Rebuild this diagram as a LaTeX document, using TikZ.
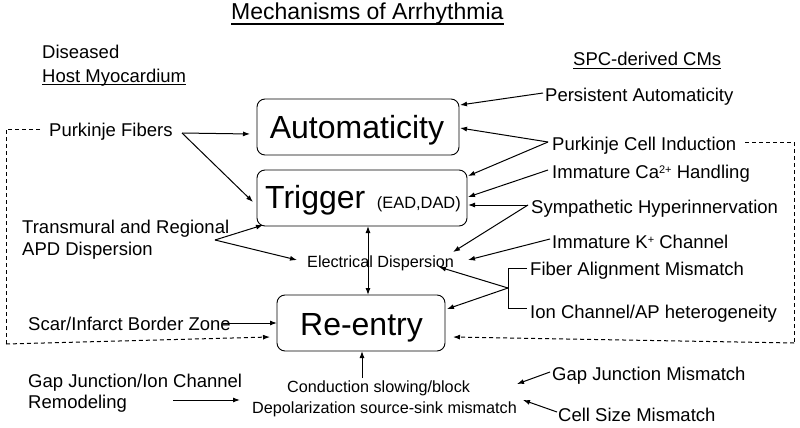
\documentclass[tikz,border=0pt]{standalone}
\usepackage{fontspec}
\setmainfont{Liberation Sans}
\usetikzlibrary{arrows.meta}
\newcommand{\mysup}[1]{\raisebox{5pt}{\fontsize{11}{12}\selectfont #1}}
\begin{document}
\begin{tikzpicture}[x=1pt,y=-1pt,
 txt/.style={inner sep=0,anchor=base west,font=\fontsize{18.5}{21}\selectfont},
 sm/.style={inner sep=0,anchor=base west,font=\fontsize{16.2}{18}\selectfont},
 box/.style={draw,rounded corners=8pt,line width=0.9pt,inner sep=0},
 big/.style={inner sep=0,anchor=base,font=\fontsize{32}{36}\selectfont},
 arr/.style={-{Latex[length=7pt,width=5pt]},line width=1pt},
 darr/.style={{Latex[length=7pt,width=5pt]}-{Latex[length=7pt,width=5pt]},line width=1pt},
 ln/.style={line width=1pt},
 dsh/.style={dash pattern=on 4pt off 3pt,line width=1pt},
 ul/.style={line width=1.2pt}]
\useasboundingbox (0,0) rectangle (800,428);

% boxes
\node[box,minimum width=202pt,minimum height=56pt] (auto) at (358,127) {};
\node[box,minimum width=210pt,minimum height=56pt] (trig) at (362,198) {};
\node[box,minimum width=168pt,minimum height=56pt] (reen) at (361,323) {};
\node[big] (autot) at (357,138) {Automaticity};
\node[big,anchor=base west] (trigt) at (265,208) {Trigger};
\node[inner sep=0,anchor=base east,font=\fontsize{16.4}{19}\selectfont] (ead) at (461,208) {(EAD,DAD)};
\node[big] (reent) at (361.5,335) {Re-entry};

% headers
\node[inner sep=0,anchor=base west,font=\fontsize{23}{26}\selectfont] (title) at (231,20) {Mechanisms of Arrhythmia};
\draw[ul] ([yshift=-4pt]title.base west) -- ([yshift=-4pt]title.base east);
\node[txt] (dis) at (42,59) {Diseased};
\node[txt] (host) at (42,82) {Host Myocardium};
\draw[ul] ([yshift=-2.5pt]host.base west) -- ([yshift=-2.5pt]host.base east);
\node[txt] (spc) at (573,66) {SPC-derived CMs};
\draw[ul] ([yshift=-2.5pt]spc.base west) -- ([yshift=-2.5pt]spc.base east);

% left texts
\node[txt] (pf) at (49,136) {Purkinje Fibers};
\node[txt] (trans1) at (22,233) {Transmural and Regional};
\node[txt] (trans2) at (22,255) {APD Dispersion};
\node[txt] (scar) at (28,330) {Scar/Infarct Border Zone};
\node[txt] (gap1) at (28,387) {Gap Junction/Ion Channel};
\node[txt] (gap2) at (28,408) {Remodeling};

% right texts
\node[txt] (pa) at (545,101) {Persistent Automaticity};
\node[txt] (pci) at (552,150) {Purkinje Cell Induction};
\node[txt] (ca) at (552,178) {Immature Ca\mysup{2+} Handling};
\node[txt] (sym) at (531,213) {Sympathetic Hyperinnervation};
\node[txt] (kch) at (552,248) {Immature K\mysup{+} Channel};
\node[txt] (fib) at (530,275) {Fiber Alignment Mismatch};
\node[txt] (ion) at (530,318) {Ion Channel/AP heterogeneity};
\node[txt] (gjm) at (552,380) {Gap Junction Mismatch};
\node[txt] (csm) at (558,421) {Cell Size Mismatch};

% centre texts
\node[sm] (ed) at (307,267) {Electrical Dispersion};
\node[sm] (cond) at (287,392) {Conduction slowing/block};
\node[sm] (depo) at (252,413) {Depolarization source-sink mismatch};

% connector points
\coordinate (paS) at (543,93);   \coordinate (autoNE) at (460,105);
\coordinate (pciS) at (548,142); \coordinate (autoE) at (460,128); \coordinate (trigNE) at (468,176);
\coordinate (caS) at (548,170);  \coordinate (trigE1) at (468,197);
\coordinate (symS) at (528,205); \coordinate (trigE2) at (468,205); \coordinate (edNE) at (453,252);
\coordinate (kS) at (550,239);   \coordinate (edE) at (468,260);
\coordinate (brA) at (527,268); \coordinate (brB) at (508,268); \coordinate (brC) at (508,308); \coordinate (brD) at (527,308);
\coordinate (brM) at (508,288);  \coordinate (edSE) at (439,267); \coordinate (reenNE) at (447,309);
\coordinate (rdA) at (745,142); \coordinate (rdB) at (794,142); \coordinate (rdC) at (794,343); \coordinate (reenE) at (453,337);
\coordinate (ldA) at (40,129); \coordinate (ldB) at (6,129); \coordinate (ldC) at (6,344); \coordinate (reenW) at (270,337);
\coordinate (pfS) at (182,133); \coordinate (autoW) at (250,134); \coordinate (trigW) at (253,202);
\coordinate (trS) at (215,240); \coordinate (trigSW) at (263,225); \coordinate (edW) at (297,260);
\coordinate (scS) at (223,323); \coordinate (reenW2) at (277,323);
\coordinate (gpS) at (173,400); \coordinate (depoW) at (240,400);
\coordinate (trigS) at (368,226); \coordinate (reenN) at (368,295);
\coordinate (cdS) at (362,378); \coordinate (reenS) at (362,351);
\coordinate (gjS) at (550,372); \coordinate (depoE1) at (517,384);
\coordinate (csS) at (557,412); \coordinate (depoE2) at (523,400);

% connectors
\draw[arr] (paS) -- (autoNE);
\draw[arr] (pciS) -- (autoE);
\draw[arr] (pciS) -- (trigNE);
\draw[arr] (caS) -- (trigE1);
\draw[arr] (symS) -- (trigE2);
\draw[arr] (symS) -- (edNE);
\draw[arr] (kS) -- (edE);
\draw[ln] (brA) -- (brB) -- (brC) -- (brD);
\draw[arr] (brM) -- (edSE);
\draw[arr] (brM) -- (reenNE);
\draw[dsh] (rdA) -- (rdB) -- (rdC);
\draw[dsh,-{Latex[length=7pt,width=5pt]}] (rdC) -- (reenE);
\draw[dsh] (ldA) -- (ldB) -- (ldC);
\draw[dsh,-{Latex[length=7pt,width=5pt]}] (ldC) -- (reenW);
\draw[arr] (pfS) -- (autoW);
\draw[arr] (pfS) -- (trigW);
\draw[arr] (trS) -- (trigSW);
\draw[arr] (trS) -- (edW);
\draw[arr] (scS) -- (reenW2);
\draw[arr] (gpS) -- (depoW);
\draw[darr] (trigS) -- (reenN);
\draw[arr] (cdS) -- (reenS);
\draw[arr] (gjS) -- (depoE1);
\draw[arr] (csS) -- (depoE2);
\end{tikzpicture}
\end{document}
